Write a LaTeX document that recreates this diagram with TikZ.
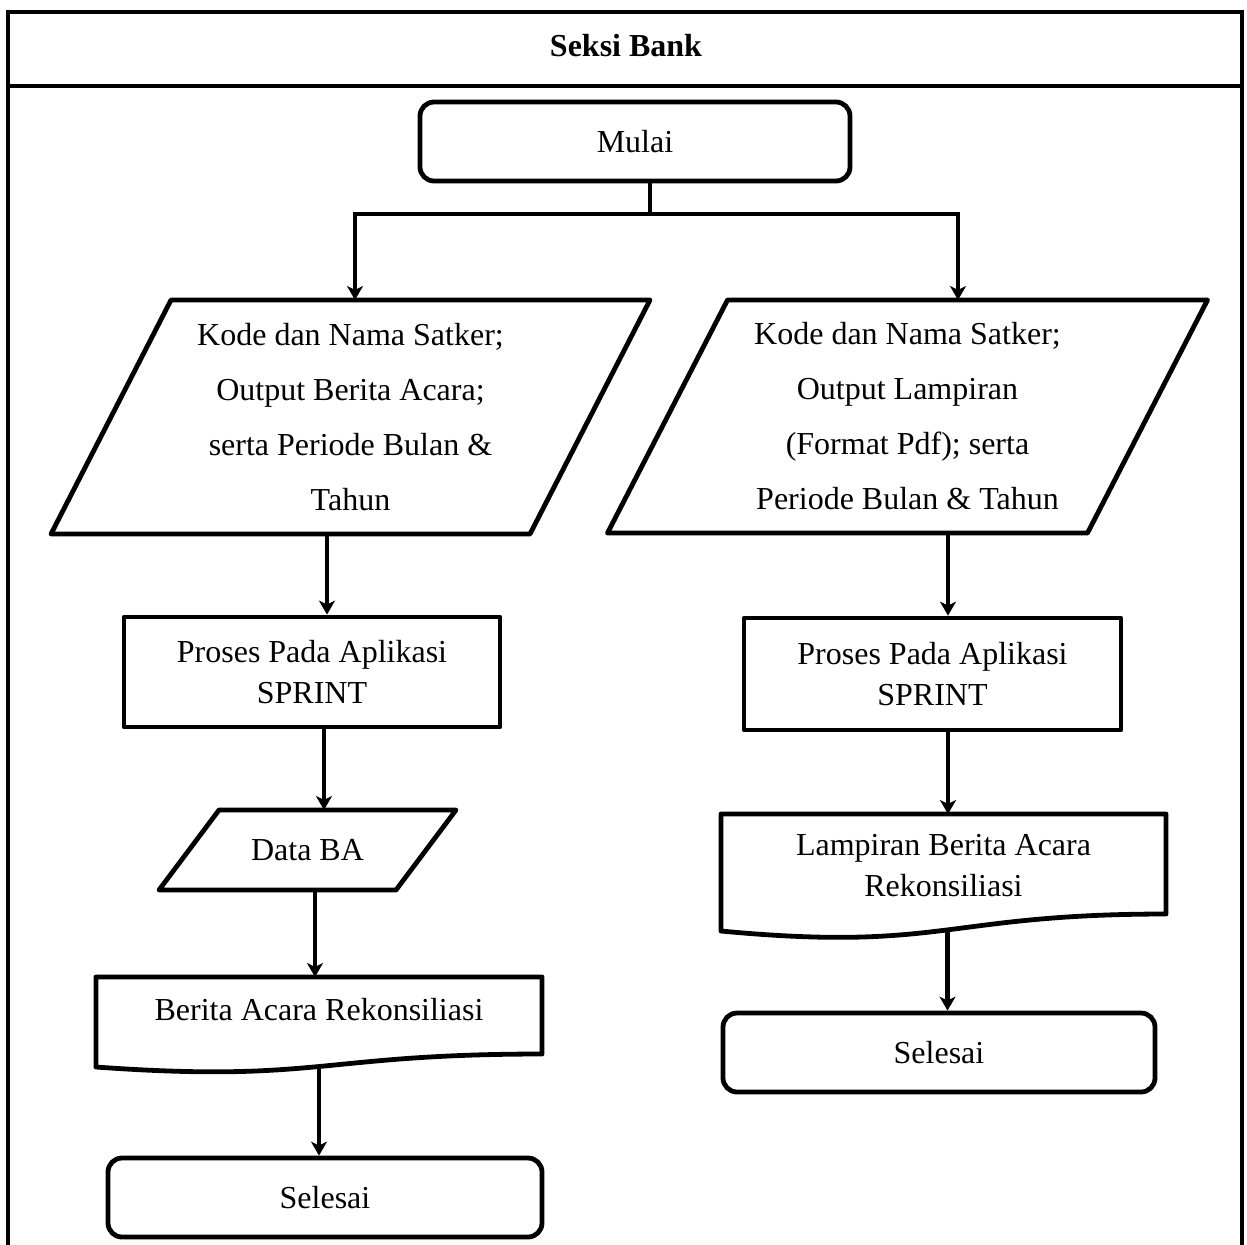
\documentclass[tikz,border=0pt]{standalone}
\usepackage{fontspec}
\setmainfont{Liberation Serif}
\usetikzlibrary{arrows.meta,calc}
\begin{document}
\begin{tikzpicture}[x=0.5pt,y=-0.5pt,
  conn/.style={line width=2.4pt, line join=miter},
  arr/.style={conn, -{Stealth[length=7pt,width=8pt,inset=2pt]}},
  body/.style={font=\fontsize{16pt}{20.5pt}\selectfont, align=center},
  term/.style={body, draw, line width=2.4pt, rounded corners=7pt, inner sep=0pt},
  procbox/.style={body, draw, line width=2.4pt, line join=round, inner sep=0pt},
  hold/.style={body, inner sep=0pt, outer sep=0pt},
  outline/.style={line width=2.4pt, line join=round},
  tall/.style={font=\fontsize{16pt}{27.5pt}\selectfont},
  frame/.style={line width=2.4pt}]
\useasboundingbox (0,0) rectangle (1247,1244);

% swimlane frame
\coordinate (fTL) at (8,12);
\coordinate (fTR) at (1242,12);
\coordinate (fBL) at (8,1260);
\coordinate (fBR) at (1242,1260);
\draw[frame] (fBL) -- (fTL) -- (fTR) -- (fBR);
\draw[frame] (8,86) -- (1242,86);
\node[font=\fontsize{16pt}{20pt}\selectfont\bfseries] (title) at (626,46) {Seksi Bank};

% nodes
\node[term, minimum width=215pt, minimum height=39.5pt] (mulai) at (635,141.5) {Mulai};

\node[hold, tall, minimum width=239.5pt, minimum height=117pt] (pL) at (350.5,417)
  {Kode dan Nama Satker;\\Output Berita Acara;\\serta Periode Bulan \&\\Tahun};
\draw[outline] ($(pL.north west)+(60,0)$) -- ($(pL.north east)+(60,0)$)
  -- ($(pL.south east)+(-60,0)$) -- ($(pL.south west)+(-60,0)$) -- cycle;

\node[hold, tall, minimum width=240pt, minimum height=116.5pt] (pR) at (907.5,416.5)
  {Kode dan Nama Satker;\\Output Lampiran\\(Format Pdf); serta\\Periode Bulan \& Tahun};
\draw[outline] ($(pR.north west)+(60,0)$) -- ($(pR.north east)+(60,0)$)
  -- ($(pR.south east)+(-60,0)$) -- ($(pR.south west)+(-60,0)$) -- cycle;

\node[procbox, minimum width=188pt, minimum height=55pt] (procL) at (312,672) {Proses Pada Aplikasi\\SPRINT};
\node[procbox, minimum width=188.5pt, minimum height=56pt] (procR) at (932.5,674) {Proses Pada Aplikasi\\SPRINT};

\node[hold, minimum width=118.5pt, minimum height=40pt] (dataBA) at (307.5,850) {Data BA};
\draw[outline] ($(dataBA.north west)+(30,0)$) -- ($(dataBA.north east)+(30,0)$)
  -- ($(dataBA.south east)+(-30,0)$) -- ($(dataBA.south west)+(-30,0)$) -- cycle;

\node[hold, minimum width=223pt, minimum height=33pt] (docL) at (319,1010) {Berita Acara Rekonsiliasi};
\draw[outline] (docL.north west) -- (docL.north east) -- ($(docL.north east)+(0,77)$)
  .. controls ($(docL.north)+(0,77)$) and ($(docL.north)+(0,106)$) .. ($(docL.north west)+(0,90)$)
  coordinate[pos=0.5] (docLb) -- cycle;

\node[hold, minimum width=222.5pt, minimum height=52pt] (docR) at (943.5,866) {Lampiran Berita Acara\\Rekonsiliasi};
\draw[outline] (docR.north west) -- (docR.north east) -- ($(docR.north east)+(0,100)$)
  .. controls ($(docR.north)+(0,100)$) and ($(docR.north)+(0,138)$) .. ($(docR.north west)+(0,117)$)
  coordinate[pos=0.488] (docRb) -- cycle;

\node[term, minimum width=217pt, minimum height=39.5pt] (selL) at (325,1197.5) {Selesai};
\node[term, minimum width=216pt, minimum height=39.5pt] (selR) at (939,1052.5) {Selesai};

% connector columns
\coordinate (split) at (650,214);
\coordinate (colA) at (355,214);
\coordinate (colB) at (958,214);
\coordinate (colL1) at (327,0);
\coordinate (colL2) at (324,0);
\coordinate (colL3) at (315,0);
\coordinate (colR) at (948,0);

% connectors
\draw[conn] (mulai.south -| split) -- (split);
\draw[arr] (split) -| (pL.north -| colA);
\draw[arr] (split) -| (pR.north -| colB);
\draw[arr] (pL.south -| colL1) -- (procL.north -| colL1);
\draw[arr] (procL.south -| colL2) -- (dataBA.north -| colL2);
\draw[arr] (dataBA.south -| colL3) -- (docL.north -| colL3);
\draw[arr] (docLb) -- (docLb |- selL.north);
\draw[arr] (pR.south -| colR) -- (procR.north -| colR);
\draw[arr] (procR.south -| colR) -- (docR.north -| colR);
\draw[arr] (docRb) -- (docRb |- selR.north);
\end{tikzpicture}
\end{document}
